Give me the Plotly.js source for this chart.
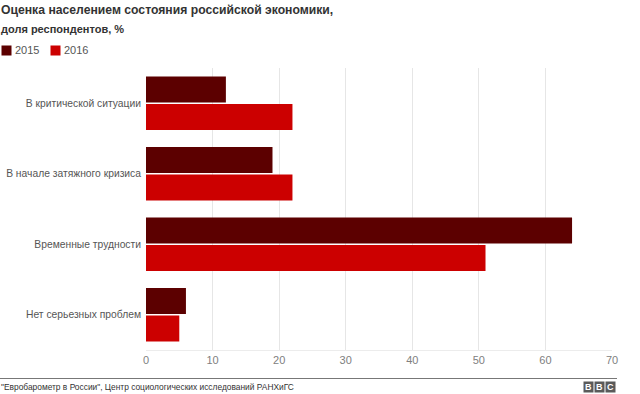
<!DOCTYPE html>
<html>
<head>
<meta charset="utf-8">
<script src="https://cdn.plot.ly/plotly-3.0.1.min.js"></script>
<style>html,body{margin:0;padding:0;background:#fff;}#chart{width:640px;height:394px;}</style>
</head>
<body>
<div id="chart"></div>
<script>
const categories = ["В критической ситуации", "В начале затяжного кризиса", "Временные трудности", "Нет серьезных проблем"];
const years = ["2015", "2016"];
const values2015 = [12, 19, 64, 6];
const values2016 = [22, 22, 51, 5];
const colors = ["#5c0000", "#cc0000"];
const xTicks = [0, 10, 20, 30, 40, 50, 60, 70];
const titleText = "Оценка населением состояния российской экономики,";
const subtitleText = "доля респондентов, %";
const sourceText = "\"Евробарометр в России\", Центр социологических исследований РАНХиГС";

const W = 640, H = 394;
const M = {l: 146, r: 28, t: 68, b: 44, autoexpand: false};
const pw = W - M.l - M.r, ph = H - M.t - M.b;
const px = p => (p - M.l) / pw;            // pixel x -> paper
const py = p => (H - M.b - p) / ph;        // pixel y -> paper

const font = "Liberation Sans, Arial, sans-serif";

const traces = [
  {type: "bar", orientation: "h", name: years[0], y: categories, x: values2015,
   marker: {color: colors[0]}, hoverinfo: "skip"},
  {type: "bar", orientation: "h", name: years[1], y: categories, x: values2016,
   marker: {color: colors[1]}, hoverinfo: "skip"}
];

const bbc = ["B", "B", "C"].map((t, i) => ({
  text: "<b>" + t + "</b>", xref: "paper", yref: "paper",
  x: px(588.5 + i * 11), y: py(387), xanchor: "center", yanchor: "middle",
  showarrow: false, bgcolor: "#5a5a5a", width: 9, height: 10,
  font: {family: font, size: 9, color: "#fff"}, borderpad: 0
}));

// legend built from the series names/colours
const legendItems = [];
years.forEach((y, i) => {
  const x0 = 1 + i * 49;
  legendItems.push({text: "", xref: "paper", yref: "paper", x: px(x0), y: py(50),
    xanchor: "left", yanchor: "middle", showarrow: false, bgcolor: colors[i],
    width: 9, height: 9, borderpad: 0});
  legendItems.push({text: y, xref: "paper", yref: "paper", x: px(x0 + 12), y: py(50),
    xanchor: "left", yanchor: "middle", showarrow: false,
    font: {family: font, size: 11, color: "#555"}});
});

const layout = {
  width: W, height: H,
  margin: M,
  paper_bgcolor: "#fff", plot_bgcolor: "#fff",
  font: {family: font, color: "#555", size: 11},
  barmode: "group", bargap: 0.22, bargroupgap: 0.06,
  showlegend: false,
  xaxis: {range: [0, 70], tickvals: xTicks, ticktext: xTicks.map(String), automargin: false,
          showgrid: true, gridcolor: "#e6e6e6", gridwidth: 1, zeroline: false,
          showline: true, linecolor: "#ececec", linewidth: 1,
          tickfont: {family: font, size: 11, color: "#808080"}, ticks: "", fixedrange: true},
  yaxis: {autorange: "reversed", showgrid: false, zeroline: false, showline: false, automargin: false,
          ticks: "", tickfont: {family: font, size: 10.3, color: "#555"}, ticklabelstandoff: 4, fixedrange: true},
  annotations: [
    {text: "<b>" + titleText + "</b>", xref: "paper", yref: "paper", x: px(-1), y: py(10),
     xanchor: "left", yanchor: "middle", showarrow: false,
     font: {family: font, size: 12.2, color: "#333"}},
    {text: "<b>" + subtitleText + "</b>", xref: "paper", yref: "paper", x: px(-1), y: py(29),
     xanchor: "left", yanchor: "middle", showarrow: false,
     font: {family: font, size: 11, color: "#333"}},
    {text: sourceText, xref: "paper", yref: "paper", x: px(-1), y: py(387),
     xanchor: "left", yanchor: "middle", showarrow: false,
     font: {family: font, size: 8.4, color: "#333"}}
  ].concat(bbc, legendItems),
  shapes: [
    {type: "line", xref: "paper", yref: "paper", x0: px(0), x1: px(617), y0: py(378.5), y1: py(378.5),
     line: {color: "#777", width: 1}}
  ]
};

Plotly.newPlot("chart", traces, layout, {staticPlot: true, displayModeBar: false});
</script>
</body>
</html>
